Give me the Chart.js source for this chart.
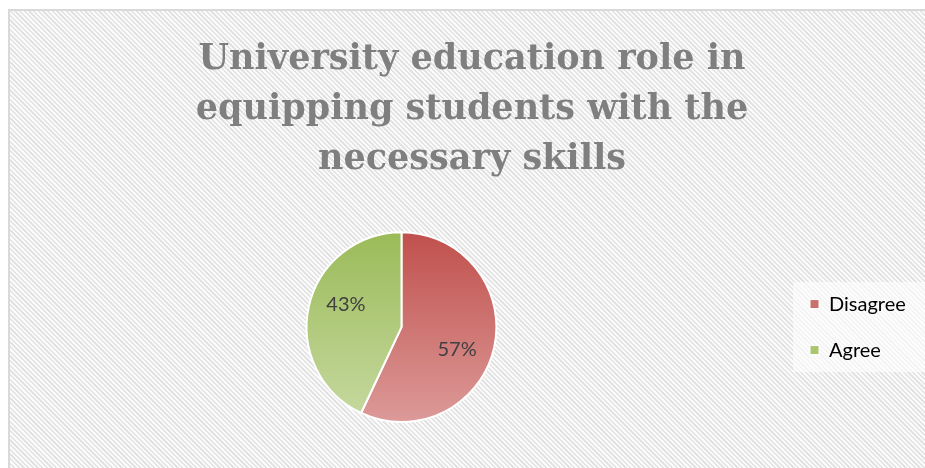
<!DOCTYPE html>
<html>
<head>
<meta charset="utf-8">
<script src="https://cdn.jsdelivr.net/npm/chart.js@4/dist/chart.umd.min.js"></script>
<style>
  html, body { margin: 0; padding: 0; background: #ffffff; }
  #frame {
    position: absolute; left: 8px; top: 9px; width: 940px; height: 470px;
    border-left: 2px solid #d9d9d9; border-top: 2px solid #d9d9d9;
    background: repeating-linear-gradient(45deg, #fbfbfb 0px, #fbfbfb 1.7px, #e3e3e3 1.7px, #e3e3e3 3.3px);
  }
  #wrap { position: absolute; left: 0; top: 0; width: 925px; height: 468px; }
</style>
</head>
<body>
<div id="frame"></div>
<div id="wrap"><canvas id="c" width="925" height="468"></canvas></div>
<script>
const categories = ["Disagree", "Agree"];
const values = [57, 43];
const titleLines = ["University education role in", "equipping students with the", "necessary skills"];

const gradStops = [
  ["#c0504d", "#dc9a98"],
  ["#9bbb59", "#c6d9a0"]
];
const legendColors = ["#c9706d", "#a9c56e"];

function sliceFill(ctx) {
  const chart = ctx.chart;
  const area = chart.chartArea;
  if (!area) return gradStops[ctx.dataIndex][0];
  const meta = chart.getDatasetMeta(0);
  const arc = meta.data[ctx.dataIndex];
  let top = area.top, bottom = area.bottom;
  if (arc && arc.outerRadius) { top = arc.y - arc.outerRadius; bottom = arc.y + arc.outerRadius; }
  const g = chart.ctx.createLinearGradient(0, top, 0, bottom);
  g.addColorStop(0, gradStops[ctx.dataIndex][0]);
  g.addColorStop(1, gradStops[ctx.dataIndex][1]);
  return g;
}

const pctLabels = {
  id: 'pctLabels',
  afterDatasetsDraw(chart) {
    const meta = chart.getDatasetMeta(0);
    const total = values.reduce((a, b) => a + b, 0);
    const c = chart.ctx;
    const fontSize = 20;
    c.save();
    c.font = fontSize + 'px Lato, "Open Sans", sans-serif';
    c.fillStyle = '#404040';
    c.textAlign = 'center';
    c.textBaseline = 'middle';
    meta.data.forEach((arc, i) => {
      const mid = (arc.startAngle + arc.endAngle) / 2;
      const r = arc.outerRadius * 0.6;
      const x = arc.x + Math.cos(mid) * r;
      // label box hangs away from the centre vertically
      const y = arc.y + Math.sin(mid) * r + Math.sign(Math.sin(mid)) * fontSize / 2;
      c.fillText(Math.round(values[i] / total * 100) + '%', x, y);
    });
    c.restore();
  }
};

const legendBox = {
  id: 'legendBox',
  beforeDraw(chart) {
    const lg = chart.legend;
    if (!lg || !lg.legendHitBoxes || !lg.legendHitBoxes.length) return;
    const hb = lg.legendHitBoxes;
    const top = hb[0].top - 12;
    const bottom = hb[hb.length - 1].top + hb[hb.length - 1].height + 12;
    const c = chart.ctx;
    c.save();
    c.fillStyle = 'rgba(255,255,255,0.6)';
    c.fillRect(hb[0].left - 17, top, chart.width - (hb[0].left - 17), bottom - top);
    c.restore();
  }
};

const chart = new Chart(document.getElementById('c'), {
  type: 'pie',
  data: {
    labels: categories,
    datasets: [{
      data: values,
      backgroundColor: sliceFill,
      borderColor: '#ffffff',
      borderWidth: 2,
      hoverOffset: 0
    }]
  },
  options: {
    responsive: false,
    animation: false,
    rotation: 0,
    layout: { padding: { top: 10, bottom: 45, left: 19, right: 0 } },
    plugins: {
      title: {
        display: true,
        text: titleLines,
        color: '#7f7f7f',
        font: { family: '"DejaVu Serif", serif', size: 35, weight: 'bold', lineHeight: 1.43 },
        padding: { top: 25, bottom: 46 }
      },
      legend: {
        display: true,
        position: 'right',
        fullSize: false,
        labels: {
          color: '#595959',
          font: { family: 'Lato, "Open Sans", sans-serif', size: 20 },
          boxWidth: 9,
          boxHeight: 9,
          padding: 26,
          generateLabels(chart) {
            return categories.map((name, i) => ({
              text: name,
              fillStyle: legendColors[i],
              strokeStyle: '#ffffff',
              lineWidth: 1,
              hidden: false,
              index: i
            }));
          }
        }
      },
      tooltip: { enabled: false }
    }
  },
  plugins: [legendBox, pctLabels]
});
const origFit = chart.legend.fit;
chart.legend.fit = function () { origFit.apply(this, arguments); this.width = 141; };
chart.update();
</script>
</body>
</html>
